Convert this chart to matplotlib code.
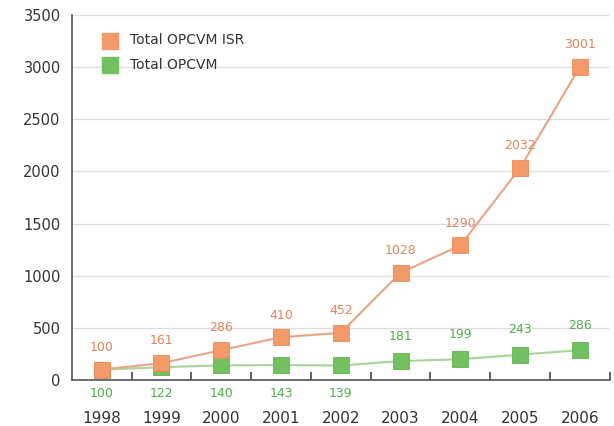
import matplotlib.pyplot as plt
import numpy as np

years = ['1998', '1999', '2000', '2001', '2002', '2003', '2004', '2005', '2006']
isr = [100, 161, 286, 410, 452, 1028, 1290, 2032, 3001]
total = [100, 122, 140, 143, 139, 181, 199, 243, 286]
yticks = [0, 500, 1000, 1500, 2000, 2500, 3000, 3500]

plt.rcParams['font.family'] = ['DejaVu Sans']

orange = '#f39a68'
orange_edge = '#ec8a55'
orange_line = '#e8a585'
orange_txt = '#e3835a'
green = '#72c060'
green_edge = '#5fb24f'
green_line = '#a9d49c'
green_txt = '#4daf48'

fig = plt.figure(figsize=(6.14, 4.26), dpi=100)
ax = fig.add_axes([0.117, 0.108, 0.876, 0.857])

x = np.arange(len(years))
ax.plot(x, total, color=green_line, lw=1.5, zorder=2)
ax.plot(x, isr, color=orange_line, lw=1.5, zorder=2)
ax.scatter(x, total, marker='s', s=140, color=green, edgecolors=green_edge, linewidths=0.6, zorder=3)
ax.scatter(x, isr, marker='s', s=140, color=orange, edgecolors=orange_edge, linewidths=0.6, zorder=4)

for i, v in enumerate(isr):
    ax.annotate(str(v), (i, v), xytext=(0, 16), textcoords='offset points',
                ha='center', va='center', color=orange_txt, fontsize=9)
for i, v in enumerate(total):
    if i < 5:
        ax.annotate(str(v), (i, 0), xytext=(0, -5), textcoords='offset points',
                    ha='center', va='top', color=green_txt, fontsize=9)
    else:
        ax.annotate(str(v), (i, v), xytext=(0, 18), textcoords='offset points',
                    ha='center', va='center', color=green_txt, fontsize=9)

ax.scatter([], [], marker='s', s=120, color=orange, label='Total OPCVM ISR')
ax.scatter([], [], marker='s', s=120, color=green, label='Total OPCVM')
leg = ax.legend(loc='upper left', bbox_to_anchor=(0.035, 0.965), frameon=False,
                fontsize=10, handletextpad=0.4, labelspacing=0.75, borderaxespad=0)
for t in leg.get_texts():
    t.set_color('#333333')

ax.set_xlim(-0.5, len(years) - 0.5)
ax.set_ylim(0, 3500)
ax.set_yticks(yticks)
ax.set_yticklabels([str(t) for t in yticks], fontsize=10.5, color='#333333')
ax.tick_params(axis='y', length=0, pad=8)

ax.set_xticks(x)
ax.set_xticklabels(years, fontsize=11, color='#333333')
ax.tick_params(axis='x', length=0, pad=22)
ax.set_xticks(np.arange(len(years)) + 0.5, minor=True)
ax.tick_params(axis='x', which='minor', direction='in', length=6, width=1.2, color='#444444')

ax.grid(axis='y', color='#dddddd', lw=0.9)
ax.set_axisbelow(True)
for s in ['top', 'right']:
    ax.spines[s].set_visible(False)
ax.spines['left'].set_color('#555555')
ax.spines['bottom'].set_color('#555555')
ax.spines['left'].set_linewidth(1.2)
ax.spines['bottom'].set_linewidth(1.2)

fig.savefig('out.png', dpi=100)
